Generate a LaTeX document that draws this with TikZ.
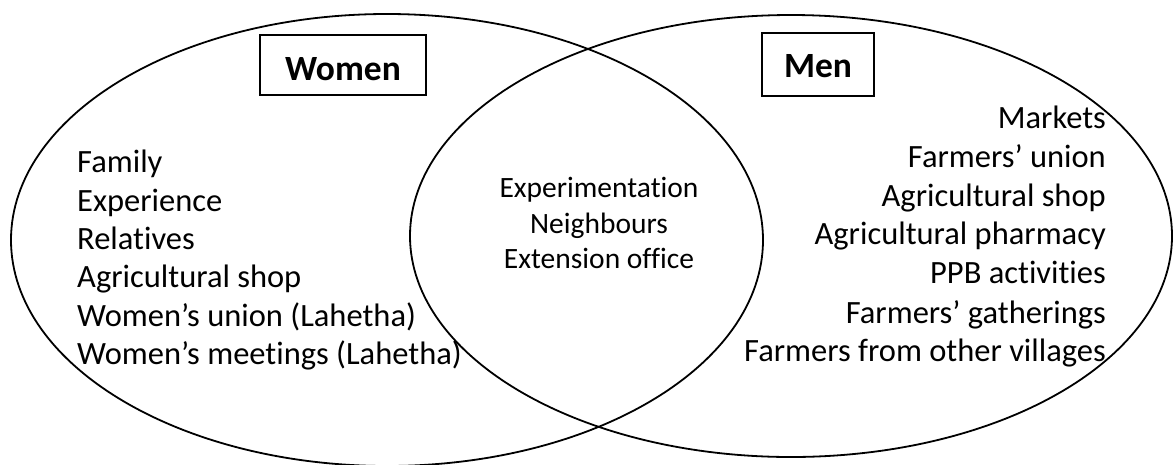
\documentclass[tikz,border=0pt]{standalone}
\usepackage{fontspec}
\setmainfont{Carlito}[Ligatures=NoCommon]
\usepackage{tikz}

\begin{document}
\begin{tikzpicture}[x=1pt,y=-1pt,
    item/.style={inner sep=0pt, font=\fontsize{32.5pt}{38pt}\selectfont},
    mid/.style={inner sep=0pt, font=\fontsize{29.5pt}{36pt}\selectfont},
    title/.style={draw, line width=1.8pt, inner sep=0pt, font=\fontsize{35.5pt}{40pt}\selectfont\bfseries}]
\useasboundingbox (0,0) rectangle (1174,464);
% the two sets
\draw[line width=1.8pt] (387,240) ellipse [x radius=376pt, y radius=226pt];
\draw[line width=1.8pt] (791,236) ellipse [x radius=381pt, y radius=221pt];
% titles
\node[title, minimum width=166pt, minimum height=60pt, text height=30pt, text depth=0pt] (women) at (343,65) {Women};
\node[title, minimum width=112pt, minimum height=63pt, text height=26pt, text depth=0pt] (men) at (818,64.5) {Men};
% women only
\node[item, anchor=base west] (w1) at (77,172) {Family};
\node[item, anchor=base west] (w2) at (77,211) {Experience};
\node[item, anchor=base west] (w3) at (77,249) {Relatives};
\node[item, anchor=base west] (w4) at (77,287) {Agricultural shop};
\node[item, anchor=base west] (w5) at (77,326) {Women’s union (Lahetha)};
\node[item, anchor=base west] (w6) at (77,364) {Women’s meetings (Lahetha)};
% both
\node[mid, anchor=base] (b1) at (599,197) {Experimentation};
\node[mid, anchor=base] (b2) at (599,233) {Neighbours};
\node[mid, anchor=base] (b3) at (599,268) {Extension office};
% men only
\node[item, anchor=base east] (m1) at (1106,128) {Markets};
\node[item, anchor=base east] (m2) at (1106,167) {Farmers’ union};
\node[item, anchor=base east] (m3) at (1106,206) {Agricultural shop};
\node[item, anchor=base east] (m4) at (1106,244) {Agricultural pharmacy};
\node[item, anchor=base east] (m5) at (1106,283) {PPB activities};
\node[item, anchor=base east] (m6) at (1106,323) {Farmers’ gatherings};
\node[item, anchor=base east] (m7) at (1106,361) {Farmers from other villages};
\end{tikzpicture}
\end{document}
